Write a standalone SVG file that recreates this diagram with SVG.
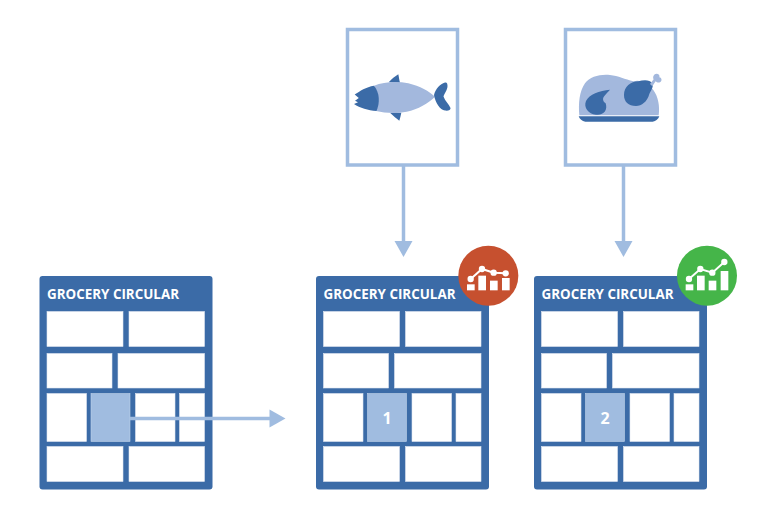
<svg xmlns="http://www.w3.org/2000/svg" xmlns:xlink="http://www.w3.org/1999/xlink" width="768" height="519" viewBox="0 0 768 519">
<style>
.card{fill:#3b6ba7}
.cell{fill:#fff;stroke:#dfe7f2;stroke-width:.6}
.hi{fill:#a0bce0;stroke:#c0d2ea;stroke-width:.6}
.title{font-family:"Open Sans",sans-serif;font-weight:700;font-size:13.400px;fill:#fff}
.num{font-family:"Open Sans",sans-serif;font-weight:700;font-size:16px;fill:#fff;text-anchor:middle}
.frame{fill:#fff;stroke:#a0bce0;stroke-width:3.500}
.line{stroke:#a0bce0;stroke-width:3.500;fill:none}
.head{fill:#a0bce0}
.dark{fill:#3b6ba7}
.soft{fill:#a3b8dd}
.w{fill:#fff}
</style>
<defs>
<g id="sheet">
<rect class="card" x="39.500" y="276" width="173" height="213.500" rx="3"/>
<text class="title" x="47" y="298.500">GROCERY CIRCULAR</text>
<rect class="cell" x="47" y="311.500" width="76" height="35"/>
<rect class="cell" x="129" y="311.500" width="75.500" height="35"/>
<rect class="cell" x="47" y="353.500" width="65" height="34.500"/>
<rect class="cell" x="118" y="353.500" width="86.500" height="34.500"/>
<rect class="cell" x="47" y="393.500" width="39.500" height="48"/>
<rect class="hi" x="91" y="393.500" width="39" height="48"/>
<rect class="cell" x="135.500" y="393.500" width="39.500" height="48"/>
<rect class="cell" x="179.500" y="393.500" width="25" height="48"/>
<rect class="cell" x="47" y="446.500" width="76" height="35"/>
<rect class="cell" x="129" y="446.500" width="75.500" height="35"/>
</g>
</defs>
<g id="fish-card">
<rect class="frame" x="347.500" y="29.500" width="110" height="135.500"/>
<path class="dark" d="M388.700 82.300C391.500 79 395 76.500 398.300 74.300C399 77.500 399.300 80 400 82.700Z"/>
<path class="dark" d="M390 112.700C393.300 116 396.700 118.700 399.300 120.700C400.300 118 400.700 115.300 401.300 112.700Z"/>
<path class="soft" d="M374 85.700C384 81.700 397 81 408.300 83.300C420 86 429.300 91.300 435 96.700C428.300 103.300 418.300 109.300 406.700 111.700C395 114 385 113 376 111C379.300 103.300 379.300 94 374 85.700Z"/>
<path class="dark" d="M374 85.700C366 87 360 91 354.700 94.500L358.800 98L355 100.800L358 102.300L354 104C360 108 368 110.500 376.500 111C380 103 380 93 374 85.700Z"/>
<path class="dark" d="M434 95C435.500 89 440 84 445 82.500C447 82 447.500 84 447.500 86C447.500 90 444.500 93 443.500 96.500C445 101 449 104 450.500 108C451 110 448 111 445 110.500C440 110 435.500 103 434 95Z"/>
</g>
<g id="chicken-card">
<rect class="frame" x="565.500" y="29.500" width="110" height="135.500"/>
<g transform="translate(560 20) scale(.3333)">
<path class="soft" d="M58 286C55 250 58 215 75 190C90 170 120 162 150 165C175 167 195 178 220 184C240 178 265 188 280 210C295 230 300 260 296 286Z"/>
<path class="dark" d="M150 209C118 212 88 222 78 243C70 262 85 282 108 284C130 287 144 272 137 250C128 244 127 235 133 228C138 221 145 215 150 209Z"/>
<path class="dark" d="M192 225C192 200 212 184 235 184C250 179 270 178 277 190C282 202 272 212 268 222C262 245 245 258 228 258C205 258 192 245 192 225Z"/>
<path class="soft" d="M270 192L281 178C277 170 282 160 291 161C297 162 300 167 298 172C306 173 307 184 300 187C295 189 290 187 287 184L277 199Z"/>
<path class="dark" d="M56 289H298C295 297 288 304 278 305H76C66 304 59 297 56 289Z"/>
</g>
</g>
<g id="circular-source">
<use xlink:href="#sheet" href="#sheet"/>
</g>
<g id="circular-1" transform="translate(276.500 0)">
<use xlink:href="#sheet" href="#sheet"/>
<text class="num" x="110.500" y="424">1</text>
</g>
<g id="circular-2" transform="translate(494.500 0)">
<use xlink:href="#sheet" href="#sheet"/>
<text class="num" x="110.500" y="424">2</text>
</g>
<g id="connectors">
<path class="line" d="M130 418.500H271"/>
<path class="head" d="M269.500 409.500L285.500 418.500L269.500 427.500Z"/>
<path class="line" d="M403.500 165V242"/>
<path class="head" d="M394.500 241H412.500L403.500 257Z"/>
<path class="line" d="M623.500 165V242"/>
<path class="head" d="M614.500 241H632.500L623.500 257Z"/>
</g>
<g id="badge-down" transform="translate(440 235) scale(.3333)">
<circle cx="145" cy="122" r="90" fill="#c6502f"/>
<rect class="w" x="81" y="148" width="23" height="18"/>
<rect class="w" x="115" y="122" width="23" height="44"/>
<rect class="w" x="150" y="137" width="23" height="29"/>
<rect class="w" x="186" y="129" width="23" height="37"/>
<path fill="none" stroke="#fff" stroke-width="6" d="M92 132L126 102L161 113L197 115"/>
<circle class="w" cx="92" cy="132" r="9.500"/>
<circle class="w" cx="126" cy="102" r="9.500"/>
<circle class="w" cx="161" cy="113" r="9.500"/>
<circle class="w" cx="197" cy="115" r="9.500"/>
</g>
<g id="badge-up" transform="translate(660 235) scale(.3333)">
<circle cx="141" cy="122" r="90" fill="#45b549"/>
<rect class="w" x="77" y="148" width="23" height="18"/>
<rect class="w" x="111" y="122" width="23" height="44"/>
<rect class="w" x="146" y="137" width="23" height="29"/>
<rect class="w" x="182" y="108" width="23" height="58"/>
<path fill="none" stroke="#fff" stroke-width="6" d="M87 132L121 102L157 113L193 81"/>
<circle class="w" cx="87" cy="132" r="9.500"/>
<circle class="w" cx="121" cy="102" r="9.500"/>
<circle class="w" cx="157" cy="113" r="9.500"/>
<circle class="w" cx="193" cy="81" r="9.500"/>
</g>
</svg>
